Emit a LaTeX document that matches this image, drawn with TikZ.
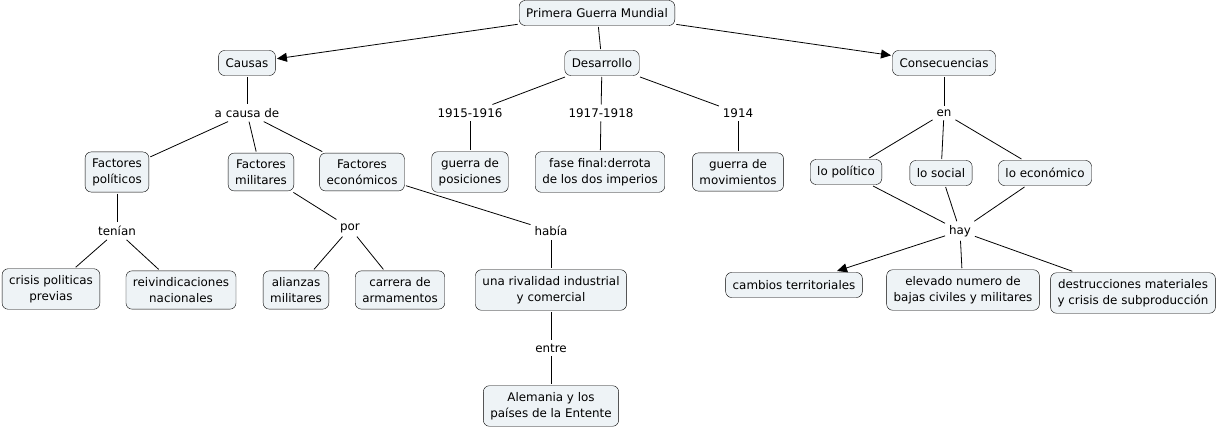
\documentclass[tikz,border=0pt]{standalone}
\usepackage{fontspec}
\setmainfont{DejaVu Sans}
\usetikzlibrary{arrows.meta}
\definecolor{conceptfill}{RGB}{238,243,246}
\tikzset{
  concept/.style={draw=black,fill=conceptfill,rounded corners=6pt,align=center,inner xsep=7pt,inner ysep=6.5pt,minimum height=25pt,outer sep=1.5pt,font=\fontsize{11.9}{16}\selectfont},
  phrase/.style={inner sep=2pt,outer sep=2pt,font=\fontsize{11.9}{16}\selectfont},
  link/.style={draw=black,line width=0.8pt},
  arr/.style={link,-{Triangle[length=10pt,width=9pt]}}
}

\begin{document}
\begin{tikzpicture}[x=1pt,y=-1pt]
  \useasboundingbox (0,0) rectangle (1220,430);
  % top level
  \node[concept] (pgm) at (597,13) {Primera Guerra Mundial};
  \node[concept] (causas) at (247,63) {Causas};
  \node[concept] (desarrollo) at (602,63) {Desarrollo};
  \node[concept] (consec) at (944,63) {Consecuencias};
  \node[phrase] (acausa) at (247,113) {a causa de};
  \node[phrase] (d1516) at (470,113) {1915-1916};
  \node[phrase] (d1718) at (601,113) {1917-1918};
  \node[phrase] (d1914) at (738,113) {1914};
  \node[phrase] (en) at (944,113) {en};
  % second row
  \node[concept] (fpol) at (117,172) {Factores\\políticos};
  \node[concept] (fmil) at (261,172) {Factores\\militares};
  \node[concept] (feco) at (362,172) {Factores\\económicos};
  \node[concept] (gpos) at (470,172) {guerra de\\posiciones};
  \node[concept] (ffin) at (600,172) {fase final:derrota\\de los dos imperios};
  \node[concept] (gmov) at (738,172) {guerra de\\movimientos};
  \node[concept] (lpol) at (846,172) {lo político};
  \node[concept] (lsoc) at (941,173) {lo social};
  \node[concept] (leco) at (1045,173) {lo económico};
  \node[phrase] (tenian) at (117,231) {tenían};
  \node[phrase] (por) at (350,228) {por};
  \node[phrase] (habia) at (551,231) {había};
  \node[phrase] (hay) at (960,231) {hay};
  % bottom rows
  \node[concept] (crisis) at (51,289) {crisis politicas\\previas};
  \node[concept] (reiv) at (181,290) {reivindicaciones\\nacionales};
  \node[concept] (alian) at (296,290) {alianzas\\militares};
  \node[concept] (carr) at (400,290) {carrera de\\armamentos};
  \node[concept] (rival) at (551,290) {una rivalidad industrial\\y comercial};
  \node[concept] (camb) at (794,285) {cambios territoriales};
  \node[concept] (elev) at (963,290) {elevado numero de\\bajas civiles y militares};
  \node[concept] (destr) at (1133,293) {destrucciones materiales\\y crisis de subproducción};
  \node[phrase] (entre) at (551,348) {entre};
  \node[concept] (alem) at (551,406) {Alemania y los\\países de la Entente};

  \foreach \a/\b in {pgm/desarrollo,causas/acausa,acausa/fpol,acausa/fmil,acausa/feco,
      desarrollo/d1516,desarrollo/d1718,desarrollo/d1914,d1516/gpos,d1718/ffin,d1914/gmov,
      consec/en,en/lpol,en/lsoc,en/leco,lpol/hay,lsoc/hay,leco/hay,hay/elev,hay/destr,
      fpol/tenian,tenian/crisis,tenian/reiv,fmil/por,por/alian,por/carr,
      feco/habia,habia/rival,rival/entre,entre/alem}
    \draw[link] (\a) -- (\b);
  \draw[arr] (pgm) -- (causas);
  \draw[arr] (pgm) -- (consec);
  \draw[arr] (hay) -- (camb);
\end{tikzpicture}
\end{document}
